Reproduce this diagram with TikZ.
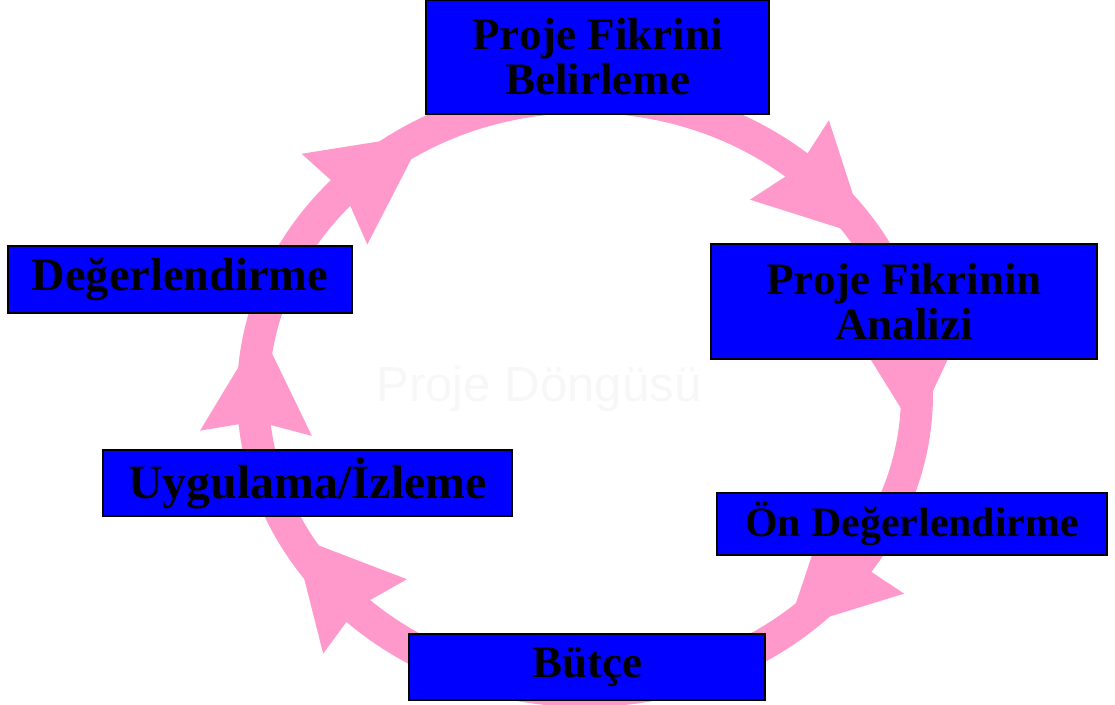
\documentclass[tikz,border=0pt]{standalone}
\usepackage{fontspec}
\setmainfont{Liberation Serif}
\newfontfamily\donguFont{Liberation Sans}
\usetikzlibrary{calc}
\definecolor{ringpink}{RGB}{255,153,204}
\definecolor{boxblue}{RGB}{0,0,255}
\tikzset{
  phase/.style={draw=black, line width=0.5pt, fill=boxblue, inner sep=0pt, align=center,
    font=\fontsize{12.8}{12.8}\selectfont\bfseries},
  ring/.style={draw=ringpink, line width=0.32cm},
}
\begin{document}
\begin{tikzpicture}
\useasboundingbox (0,0) rectangle (11.15,7.05);
\coordinate (O) at (5.85,3.11);
% pembe halka
\draw[ring] (O) ellipse [x radius=3.32, y radius=2.97];
\foreach \t in {32,-7,-52.5,208.5,167.6,119}{
  \coordinate (tip) at ($(O)+({3.32*cos(\t)},{2.97*sin(\t)})$);
  \coordinate (back) at ($(O)+({3.32*cos(\t+20)},{2.97*sin(\t+20)})$);
  \fill[ringpink] (tip) -- ($(back)!0.56cm!90:(tip)$) -- ($(back)!0.12cm!(tip)$)
    -- ($(back)!0.56cm!-90:(tip)$) -- cycle;
}
\node[text=black!3, font=\donguFont\fontsize{14}{14}\selectfont] (dongu) at (5.39,3.16) {Proje Döngüsü};
% asamalar
\node[phase, minimum width=3.43cm, minimum height=1.14cm] (belirle) at (5.975,6.48) {Proje Fikrini\\Belirleme};
\node[phase, minimum width=3.86cm, minimum height=1.15cm] (analiz) at (9.04,4.035) {Proje Fikrinin\\Analizi};
\node[phase, minimum width=3.90cm, minimum height=0.62cm, font=\fontsize{11.9}{11.9}\selectfont\bfseries] (onDeger) at (9.12,1.81) {Ön Değerlendirme};
\node[phase, minimum width=3.56cm, minimum height=0.66cm] (butce) at (5.87,0.38) {Bütçe};
\node[phase, minimum width=4.09cm, minimum height=0.66cm, font=\fontsize{13.6}{13.6}\selectfont\bfseries] (uygula) at (3.075,2.22) {Uygulama/İzleme};
\node[phase, minimum width=3.44cm, minimum height=0.67cm, font=\fontsize{13.2}{13.2}\selectfont\bfseries] (deger) at (1.80,4.255) {Değerlendirme};
\end{tikzpicture}
\end{document}
